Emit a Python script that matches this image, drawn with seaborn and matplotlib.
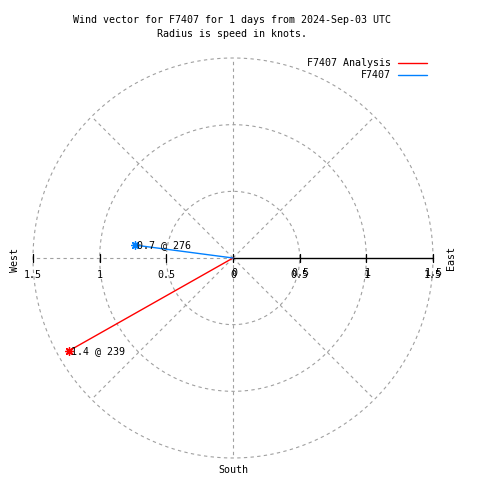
import numpy as np
import pandas as pd
import matplotlib
matplotlib.use("Agg")
import matplotlib.pyplot as plt
import seaborn as sns

# wind vectors: length (knots) and bearing (deg) as drawn, plus their labels
series = ["F7407 Analysis", "F7407"]
speeds = [1.415, 0.742]
directions = [240.5, 277.5]
point_labels = ["1.4 @ 239", "0.7 @ 276"]
colors = ["#ff0000", "#0080ff"]

rings = [0.5, 1.0, 1.5]
tick_vals = [0, 0.5, 1, 1.5]
tick_labels = ["0", "0.5", "1", "1.5"]
title = "Wind vector for F7407 for 1 days from 2024-Sep-03 UTC\nRadius is speed in knots."

sns.set_style("white")
plt.rcParams["font.family"] = ["DejaVu Sans Mono"]
plt.rcParams["text.color"] = "black"
FS = 7.2

fig = plt.figure(figsize=(4.8, 4.8), dpi=100)
ax = fig.add_axes([0, 0, 1, 1])
scale = 200 / 1.5  # px per knot
ax.set_xlim(-233 / scale, (480 - 233) / scale)
ax.set_ylim(-222 / scale, 258 / scale)
ax.set_aspect("equal")
ax.axis("off")

grid = dict(color="#a0a0a0", lw=0.8, ls=(0, (3, 3)), zorder=1)
th = np.linspace(0, 2 * np.pi, 400)
for r in rings:
    ax.plot(r * np.cos(th), r * np.sin(th), **grid)
rmax = rings[-1]
# spokes every 45 deg (east one is drawn solid below)
for a in range(45, 360, 45):
    ang = np.deg2rad(a)
    ax.plot([0, rmax * np.cos(ang)], [0, rmax * np.sin(ang)], **grid)

# east axis line and ticks
ax.plot([0, rmax], [0, 0], color="black", lw=1, zorder=2)
tk = 4 / scale
for v in tick_vals:
    for sgn in (1, -1):
        if v == 0 and sgn == -1:
            continue
        ax.plot([sgn * v, sgn * v], [-tk, tk], color="black", lw=0.9, zorder=2)

# tick labels (west side, then doubled east side like the original)
for v, lab in zip(tick_vals[1:], tick_labels[1:]):
    ax.text(-v, -17 / scale, lab, ha="center", va="center", fontsize=FS)
for v, lab in zip(tick_vals, tick_labels):
    ax.text(v, -17 / scale, lab, ha="center", va="center", fontsize=FS)
    ax.text(v + 1 / scale, -15 / scale, lab, ha="center", va="center", fontsize=FS)

# vectors
rows = []
for name, s, d, lab in zip(series, speeds, directions, point_labels):
    x = s * np.sin(np.deg2rad(d))
    y = s * np.cos(np.deg2rad(d))
    rows.append({"series": name, "x": 0.0, "y": 0.0, "label": lab})
    rows.append({"series": name, "x": x, "y": y, "label": lab})
df = pd.DataFrame(rows)
pal = dict(zip(series, colors))
sns.lineplot(data=df, x="x", y="y", hue="series", palette=pal, sort=False,
             estimator=None, lw=1, legend=False, ax=ax, zorder=3)
tips = df.iloc[1::2]
for _, r in tips.iterrows():
    ax.scatter(r["x"], r["y"], marker=(8, 2, 0), s=30, color=pal[r["series"]],
               linewidths=1, zorder=4)
    ax.text(r["x"] + 2 / scale, r["y"], r["label"], ha="left",
            va="center", fontsize=FS, zorder=5)

# compass labels
fig.text(15 / 480, 1 - 260 / 480, "West", rotation=90, ha="center", va="center", fontsize=FS)
fig.text(451 / 480, 1 - 258 / 480, "East", rotation=90, ha="center", va="center", fontsize=FS)
fig.text(233 / 480, 1 - 470 / 480, "South", ha="center", va="center", fontsize=FS)

# title
fig.text(232 / 480, 1 - 27 / 480, title, ha="center", va="center", fontsize=FS,
         linespacing=1.45)

# legend
for i, (name, c) in enumerate(zip(series, colors)):
    yy = 1 - (63 + 12 * i) / 480
    fig.text(391 / 480, yy, name, ha="right", va="center", fontsize=FS)
    fig.add_artist(plt.Line2D([398 / 480, 427 / 480], [yy, yy], color=c, lw=1,
                              transform=fig.transFigure))

fig.savefig("out.png", dpi=100)
